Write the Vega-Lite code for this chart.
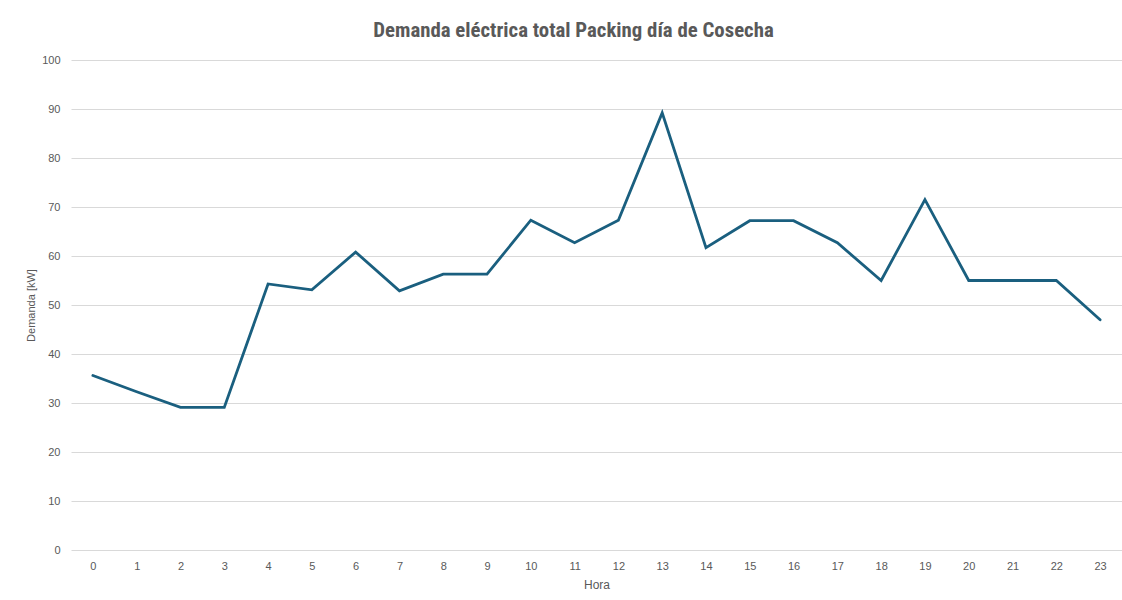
{
  "$schema": "https://vega.github.io/schema/vega-lite/v6.json",
  "autosize": {"type": "none"},
  "width": 1051,
  "height": 490,
  "padding": {"left": 71, "top": 60, "right": 0, "bottom": 50},
  "background": "white",
  "title": {
    "text": "Demanda eléctrica total Packing día de Cosecha",
    "font": "Liberation Sans Narrow, Roboto Condensed, Roboto",
    "fontSize": 20.8,
    "fontWeight": "bold",
    "color": "#595959",
    "anchor": "middle",
    "dx": -23,
    "offset": 12
  },
  "data": {
    "values": [
      {"hora": 0, "demanda": 35.6},
      {"hora": 1, "demanda": 32.3},
      {"hora": 2, "demanda": 29.1},
      {"hora": 3, "demanda": 29.1},
      {"hora": 4, "demanda": 54.3},
      {"hora": 5, "demanda": 53.1},
      {"hora": 6, "demanda": 60.8},
      {"hora": 7, "demanda": 52.9},
      {"hora": 8, "demanda": 56.3},
      {"hora": 9, "demanda": 56.3},
      {"hora": 10, "demanda": 67.3},
      {"hora": 11, "demanda": 62.7},
      {"hora": 12, "demanda": 67.3},
      {"hora": 13, "demanda": 89.2},
      {"hora": 14, "demanda": 61.7},
      {"hora": 15, "demanda": 67.2},
      {"hora": 16, "demanda": 67.2},
      {"hora": 17, "demanda": 62.7},
      {"hora": 18, "demanda": 55.0},
      {"hora": 19, "demanda": 71.5},
      {"hora": 20, "demanda": 55.0},
      {"hora": 21, "demanda": 55.0},
      {"hora": 22, "demanda": 55.0},
      {"hora": 23, "demanda": 47.0}
    ]
  },
  "mark": {"type": "line", "color": "#1a5f7f", "strokeWidth": 2.8, "strokeJoin": "miter", "strokeCap": "round"},
  "encoding": {
    "x": {
      "field": "hora",
      "type": "ordinal",
      "sort": "ascending",
      "scale": {"type": "point", "padding": 0.5},
      "axis": {
        "title": "Hora",
        "labelAngle": 0,
        "ticks": false,
        "domain": false,
        "grid": false,
        "labelPadding": 10,
        "titlePadding": 8,
        "labelFont": "Liberation Sans, Arial",
        "labelFontSize": 11,
        "labelColor": "#595959",
        "titleFont": "Liberation Sans, Arial",
        "titleFontSize": 12,
        "titleFontWeight": "normal",
        "titleColor": "#595959"
      }
    },
    "y": {
      "field": "demanda",
      "type": "quantitative",
      "scale": {"domain": [0, 100], "nice": false},
      "axis": {
        "title": "Demanda [kW]",
        "values": [0, 10, 20, 30, 40, 50, 60, 70, 80, 90, 100],
        "ticks": false,
        "domain": false,
        "grid": true,
        "gridColor": "#d9d9d9",
        "gridWidth": 1,
        "labelPadding": 11,
        "titlePadding": 5,
        "labelFont": "Liberation Sans, Arial",
        "labelFontSize": 11,
        "labelColor": "#595959",
        "titleFont": "Liberation Sans, Arial",
        "titleFontSize": 11,
        "titleFontWeight": "normal",
        "titleColor": "#595959"
      }
    }
  },
  "config": {"view": {"stroke": null}}
}
